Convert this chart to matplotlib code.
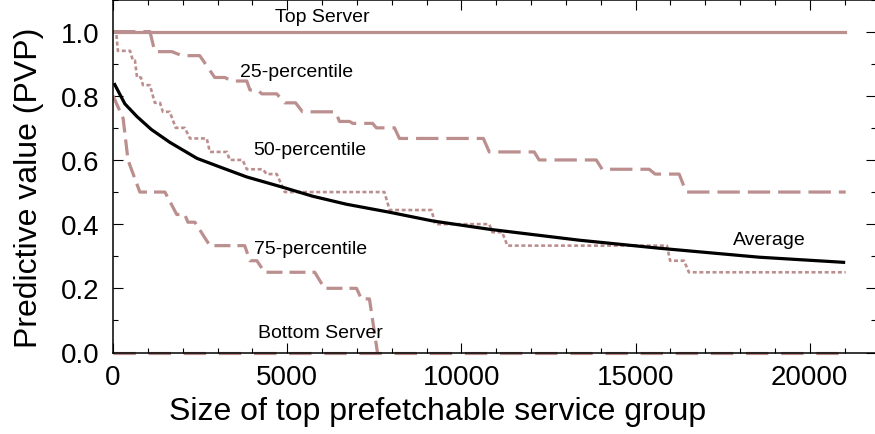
import matplotlib
matplotlib.use('Agg')
import matplotlib.pyplot as plt
from matplotlib.ticker import MultipleLocator

plt.rcParams['font.family'] = ['Liberation Sans', 'DejaVu Sans']

# PVP vs. size of the top prefetchable service group
top_x = [0, 21000]
top_y = [1.0, 1.0]

bottom_x = [0, 21000]
bottom_y = [0.0, 0.0]

# percentile curves as plateaus: start, end, value
p25_start = [0, 1200, 1980, 2920, 3410, 3930, 4270, 4930, 5440, 6500, 6880,
             7560, 8220, 10800, 12230, 14040, 15560, 16450]
p25_end = [1060, 1690, 2490, 3210, 3840, 4150, 4700, 5240, 6390, 6790, 7450,
           8080, 10630, 12090, 13870, 15390, 16250, 21030]
p25_val = [1.0, 0.9375, 0.925, 0.857, 0.846, 0.818, 0.806, 0.778, 0.75, 0.72,
           0.714, 0.70, 0.667, 0.625, 0.60, 0.571, 0.556, 0.50]

p50_start = [0, 140, 570, 690, 860, 1200, 1430, 1800, 2210, 2780, 3350, 3840,
             4410, 4930, 7940, 9250, 10890, 11320, 15990, 16530]
p50_end = [90, 490, 630, 800, 1060, 1350, 1630, 2060, 2690, 3270, 3720, 4300,
           4700, 7790, 9140, 10800, 11170, 15900, 16390, 21030]
p50_val = [1.0, 0.94, 0.91, 0.857, 0.833, 0.778, 0.75, 0.70, 0.667, 0.625, 0.60,
           0.571, 0.556, 0.50, 0.444, 0.40, 0.375, 0.333, 0.286, 0.25]

p75_start = [0, 290, 430, 770, 1830, 2150, 2780, 3930, 4350, 6070, 7130, 7590]
p75_end = [0, 290, 430, 1490, 2060, 2350, 3780, 4130, 5790, 6990, 7360, 7590]
p75_val = [0.80, 0.73, 0.60, 0.50, 0.43, 0.406, 0.333, 0.286, 0.25, 0.20, 0.167, 0.0]

avg_x = [50, 340, 690, 1100, 1630, 2410, 3070, 3840, 4840, 5730, 6700,
         7940, 9170, 10800, 13380, 15670, 18540, 20970]
avg_y = [0.835, 0.775, 0.735, 0.695, 0.655, 0.605, 0.578, 0.547, 0.516,
         0.487, 0.462, 0.437, 0.41, 0.384, 0.35, 0.325, 0.297, 0.281]


def plateau_line(starts, ends, vals):
    xs, ys = [], []
    for s, e, v in zip(starts, ends, vals):
        xs += [s, e]
        ys += [v, v]
    return xs, ys


pink = '#bc8f8f'

fig = plt.figure(figsize=(8.75, 4.35), dpi=100)
ax = fig.add_axes([113 / 875, 81.5 / 435, 763 / 875, 353 / 435])

ax.plot(top_x, top_y, color=pink, lw=2.3)
ax.plot(bottom_x, bottom_y, color=pink, lw=2.3, dashes=(7, 4), clip_on=False)
ax.plot(*plateau_line(p25_start, p25_end, p25_val), color=pink, lw=2.3, dashes=(7, 2.5))
ax.plot(*plateau_line(p50_start, p50_end, p50_val), color=pink, lw=1.9, dashes=(1.5, 1.0))
ax.plot(*plateau_line(p75_start, p75_end, p75_val), color=pink, lw=2.3, dashes=(5, 2.2))
ax.plot(avg_x, avg_y, color='black', lw=2.3)

# curve labels
ax.text(6020, 1.047, 'Top Server', ha='center', va='center', fontsize=14)
ax.text(5270, 0.875, '25-percentile', ha='center', va='center', fontsize=14)
ax.text(5640, 0.634, '50-percentile', ha='center', va='center', fontsize=14)
ax.text(5670, 0.325, '75-percentile', ha='center', va='center', fontsize=14)
ax.text(5960, 0.0625, 'Bottom Server', ha='center', va='center', fontsize=14)
ax.text(18850, 0.353, 'Average', ha='center', va='center', fontsize=14)

ax.set_xlim(0, 21900)
ax.set_ylim(0, 1.1)
ax.xaxis.set_major_locator(MultipleLocator(5000))
ax.xaxis.set_minor_locator(MultipleLocator(1000))
ax.yaxis.set_major_locator(MultipleLocator(0.2))
ax.yaxis.set_minor_locator(MultipleLocator(0.1))
ax.yaxis.set_major_formatter(plt.FormatStrFormatter('%.1f'))

ax.tick_params(which='both', direction='in', top=True, right=True, width=0.8,
               labelsize=20)
ax.tick_params(which='major', length=7)
ax.tick_params(which='minor', length=3.6)
ax.tick_params(axis='x', pad=8)
ax.tick_params(axis='y', pad=10)
for s in ax.spines.values():
    s.set_linewidth(1.1)

ax.set_xlabel('Size of top prefetchable service group', fontsize=23)
ax.set_ylabel('Predictive value (PVP)', fontsize=23)
ax.xaxis.set_label_coords(0.425, -0.122)
ax.yaxis.set_label_coords(-0.090, 0.47)

fig.savefig('out.png', dpi=100)
